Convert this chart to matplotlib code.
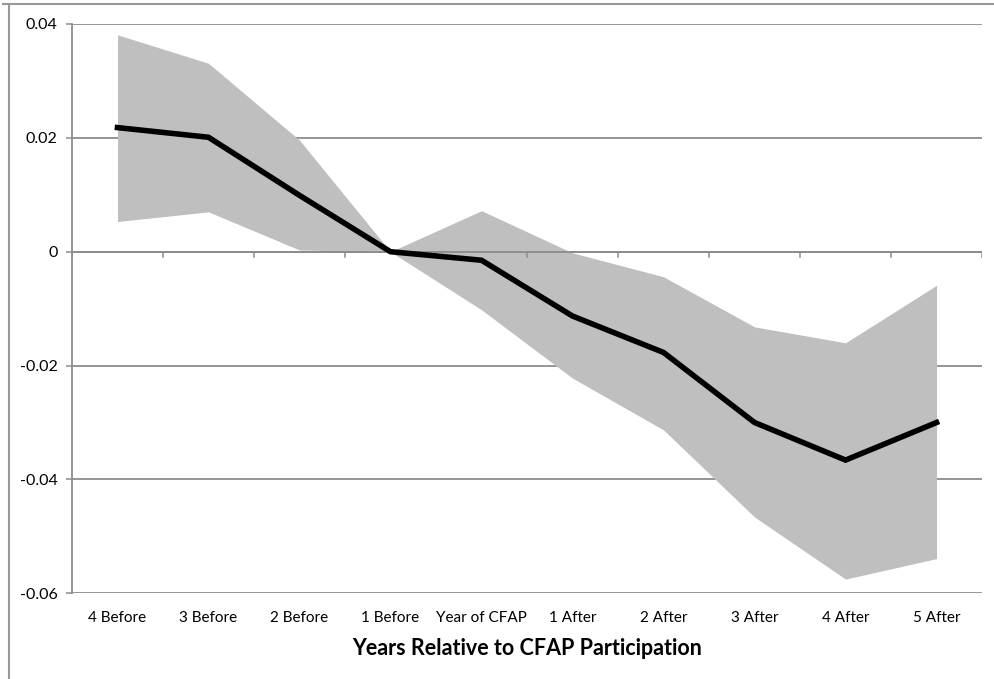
"""
  Event-study style chart: estimate line with shaded confidence band.
"""

import numpy as np
import matplotlib
matplotlib.use("Agg")
from matplotlib import pyplot as plt
from matplotlib.lines import Line2D

plt.rcParams['font.family'] = ['Lato', 'DejaVu Sans']

# data
CATEGORIES = ["4 Before", "3 Before", "2 Before", "1 Before", "Year of CFAP",
              "1 After", "2 After", "3 After", "4 After", "5 After"]
ESTIMATE = [0.0218, 0.0201, 0.0099, 0.0, -0.0015,
            -0.0113, -0.0177, -0.0300, -0.0366, -0.0300]
UPPER = [0.0381, 0.0331, 0.0196, 0.0, 0.0072,
         -0.0002, -0.0044, -0.0132, -0.0160, -0.0059]
LOWER = [0.0053, 0.0070, 0.0003, 0.0, -0.0102,
         -0.0222, -0.0313, -0.0466, -0.0575, -0.0539]
Y_TICKS = [0.04, 0.02, 0.0, -0.02, -0.04, -0.06]
Y_TICK_LABELS = ["0.04", "0.02", "0", "-0.02", "-0.04", "-0.06"]
X_TITLE = "Years Relative to CFAP Participation"

GRID = '#8c8c8c'

fig = plt.figure(figsize=(9.94, 6.79), dpi=100)
ax = fig.add_axes([0.0724, 0.1262, 0.9156, 0.8385])

x = np.arange(len(CATEGORIES))
ax.fill_between(x, LOWER, UPPER, color='#bfbfbf', lw=0, zorder=1)
ax.plot(x, ESTIMATE, color='black', lw=4, solid_joinstyle='miter', zorder=3)

ax.set_xlim(-0.5, len(CATEGORIES) - 0.5)
ax.set_ylim(min(Y_TICKS), max(Y_TICKS))

for yv in Y_TICKS:
    ax.axhline(yv, color=GRID, lw=1.3, zorder=0)

# category axis crosses at zero, with tick marks between categories
ax.axhline(0, color=GRID, lw=1.3, zorder=2)
for b in np.arange(len(CATEGORIES) + 1) - 0.5:
    ax.plot([b, b], [0, -0.0009], color=GRID, lw=1.1, zorder=2)

for side in ['top', 'right', 'bottom']:
    ax.spines[side].set_visible(False)
ax.spines['left'].set_color(GRID)
ax.spines['left'].set_linewidth(1.3)

ax.set_yticks(Y_TICKS)
ax.set_yticklabels(Y_TICK_LABELS, fontsize=11.5)
ax.tick_params(axis='y', length=4, width=1.1, color=GRID, pad=6.5)

ax.set_xticks(x)
ax.set_xticklabels(CATEGORIES, fontsize=11)
ax.tick_params(axis='x', length=0, pad=13)

ax.set_xlabel(X_TITLE, fontsize=15.5, fontweight='bold', labelpad=9)

# outer chart frame, cropped at top and right
fig.add_artist(Line2D([0.003, 1.0], [0.9935, 0.9935], transform=fig.transFigure,
                      color='#999999', lw=1.5))
fig.add_artist(Line2D([0.0095, 0.0095], [0.0, 0.9935], transform=fig.transFigure,
                      color='#999999', lw=1.5))

fig.savefig('out.png', dpi=100)
